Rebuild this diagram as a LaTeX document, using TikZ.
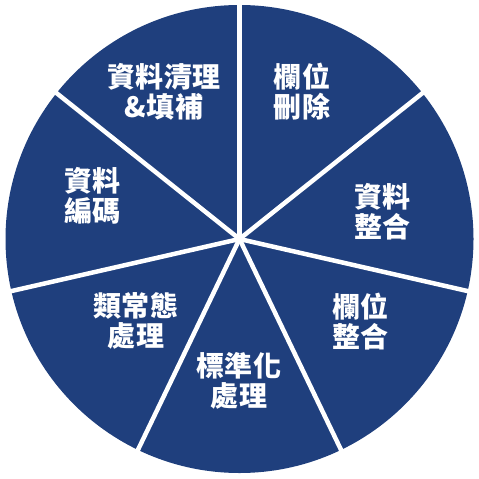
\documentclass[tikz,border=0pt]{standalone}
\usepackage{fontspec}
\newfontfamily\cjk[LetterSpace=2]{Noto Sans CJK TC}
\definecolor{pieblue}{RGB}{31,63,125}
\tikzset{
  sep/.style={draw=white, line width=4.5pt},
  lbl/.style={text=white, align=center, inner sep=0pt, font=\cjk\bfseries\fontsize{28}{30}\selectfont}
}
\begin{document}
\begin{tikzpicture}[x=1pt,y=1pt]
\useasboundingbox (0,0) rectangle (479,-479);
\coordinate (c) at (239.5,-239);
\fill[pieblue] (c) circle (234);
\foreach \a in {90,38.571,-12.857,-64.286,-115.714,-167.143,141.429}
  \draw[sep] (c) -- ++(\a:237);
\node[lbl] (s1) at (302,-91.5) {欄位\\刪除};
\node[lbl] (s2) at (382.5,-211.5) {資料\\整合};
\node[lbl] (s3) at (360.5,-321.5) {欄位\\整合};
\node[lbl] (s4) at (239,-380.5) {標準化\\處理};
\node[lbl] (s5) at (136,-321) {類常態\\處理};
\node[lbl] (s6) at (92.5,-196) {資料\\編碼};
\node[lbl] (s7) at (164,-92) {資料清理\\\&填補};
\end{tikzpicture}
\end{document}
